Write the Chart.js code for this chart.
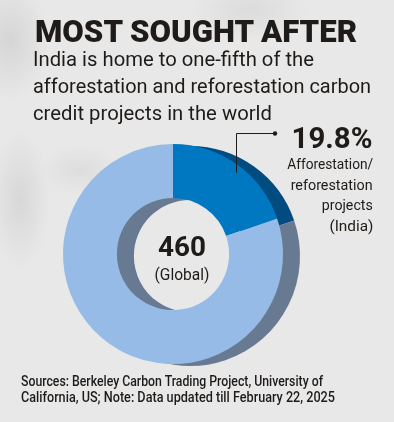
<!DOCTYPE html>
<html><head><meta charset="utf-8">
<script src="https://cdn.jsdelivr.net/npm/chart.js@4.4.1/dist/chart.umd.min.js"></script>
<style>
html,body{margin:0;padding:0;}
body{width:394px;height:422px;position:relative;overflow:hidden;font-family:Roboto,"Liberation Sans",sans-serif;color:#1f1b18;
  background:
    radial-gradient(ellipse 40px 60px at 10px 40px, rgba(190,190,190,0.45), rgba(190,190,190,0) 100%),
    radial-gradient(ellipse 30px 70px at 20px 200px, rgba(195,195,195,0.45), rgba(195,195,195,0) 100%),
    radial-gradient(ellipse 60px 30px at 250px 10px, rgba(200,200,200,0.4), rgba(200,200,200,0) 100%),
    radial-gradient(ellipse 40px 25px at 80px 170px, rgba(205,205,205,0.4), rgba(205,205,205,0) 100%),
    #e8e8e8;}
canvas{position:absolute;left:0;top:0;}
.t{position:absolute;white-space:nowrap;line-height:1;display:inline-block;}
.l{transform-origin:left center;}
.r{transform-origin:right center;}
.c{transform-origin:center center;}
</style></head><body>
<canvas id="back" width="394" height="422"></canvas>
<canvas id="front" width="394" height="422"></canvas>

<div class="t l" data-w="322" style="left:35px;top:15px;font-size:32px;font-weight:900;">MOST SOUGHT AFTER</div>
<div class="t l" data-w="281" style="left:33px;top:49px;font-size:21px;">India is home to one-fifth of the</div>
<div class="t l" data-w="338" style="left:33px;top:76px;font-size:21px;">afforestation and reforestation carbon</div>
<div class="t l" data-w="239" style="left:33px;top:103px;font-size:21px;">credit projects in the world</div>

<div class="t r" id="pct" data-w="81" style="right:21px;top:123px;font-size:30px;font-weight:700;"></div>
<div class="t r" data-w="86" style="right:21px;top:157px;font-size:15.5px;">Afforestation/</div>
<div class="t r" data-w="82" style="right:21px;top:177.5px;font-size:15.5px;">reforestation</div>
<div class="t r" data-w="51" style="right:21px;top:198px;font-size:15.5px;">projects</div>
<div class="t r" data-w="44" style="right:21px;top:218.5px;font-size:15.5px;">(India)</div>

<div class="t c" id="total" data-w="48" style="left:182px;top:232.5px;font-size:28px;font-weight:700;"></div>
<div class="t c" data-w="55" style="left:182px;top:265.5px;font-size:17px;">(Global)</div>

<div class="t l" data-w="302" style="left:21px;top:374px;font-size:14px;font-weight:500;">Sources: Berkeley Carbon Trading Project, University of</div>
<div class="t l" data-w="314" style="left:21px;top:390px;font-size:14px;font-weight:500;">California, US; Note: Data updated till February 22, 2025</div>

<script>
// ---- data ----
const categories = ['Afforestation/reforestation projects (India)', 'Rest of the world'];
const projectCounts = [91, 369];
const frontColors = ['#0077c1', '#95bbe6'];
const sideColors = ['#004b80', '#687a92'];

const total = projectCounts.reduce((a, b) => a + b, 0);
document.getElementById('total').textContent = String(total);
document.getElementById('pct').textContent = (projectCounts[0] / total * 100).toFixed(1) + '%';

const LEAD_Y = 133, DOT_X = 275;
const leader = {
  id: 'leader',
  afterDraw(chart) {
    const arc = chart.getDatasetMeta(0).data[0];
    const p = arc.getProps(['x', 'y', 'startAngle', 'endAngle', 'outerRadius'], true);
    const a = (p.startAngle + p.endAngle) / 2 + 0.04;
    const r = p.outerRadius - 7;
    const px = Math.round(p.x + r * Math.cos(a)) + 0.5;
    const py = p.y + r * Math.sin(a);
    const ctx = chart.ctx;
    ctx.save();
    ctx.strokeStyle = '#1f1b18';
    ctx.lineWidth = 1;
    ctx.beginPath();
    ctx.moveTo(px, py);
    ctx.lineTo(px, LEAD_Y + 0.5);
    ctx.lineTo(DOT_X, LEAD_Y + 0.5);
    ctx.stroke();
    ctx.fillStyle = '#1f1b18';
    ctx.beginPath();
    ctx.arc(DOT_X, LEAD_Y + 0.5, 2.2, 0, Math.PI * 2);
    ctx.fill();
    ctx.restore();
  }
};

function donut(id, colors, pad, plugins) {
  return new Chart(document.getElementById(id), {
    type: 'doughnut',
    data: {
      labels: categories,
      datasets: [{ data: projectCounts, backgroundColor: colors, borderWidth: 0, hoverOffset: 0 }]
    },
    options: {
      responsive: false,
      animation: false,
      cutout: '51%',
      layout: { padding: pad },
      plugins: { legend: { display: false }, tooltip: { enabled: false } },
      events: []
    },
    plugins: plugins || []
  });
}

donut('back', sideColors, { left: 80, top: 146, right: 94, bottom: 56 });
donut('front', frontColors, { left: 63, top: 144, right: 111, bottom: 58 }, [leader]);

function fit() {
  document.querySelectorAll('.t').forEach(el => {
    el.style.transform = '';
    const w = parseFloat(el.dataset.w);
    const nat = el.getBoundingClientRect().width;
    const s = w / nat;
    el.style.transform = el.classList.contains('c') ? `translateX(-50%) scaleX(${s})` : `scaleX(${s})`;
  });
}
fit();
if (document.fonts && document.fonts.ready) document.fonts.ready.then(fit);
</script>
</body></html>
